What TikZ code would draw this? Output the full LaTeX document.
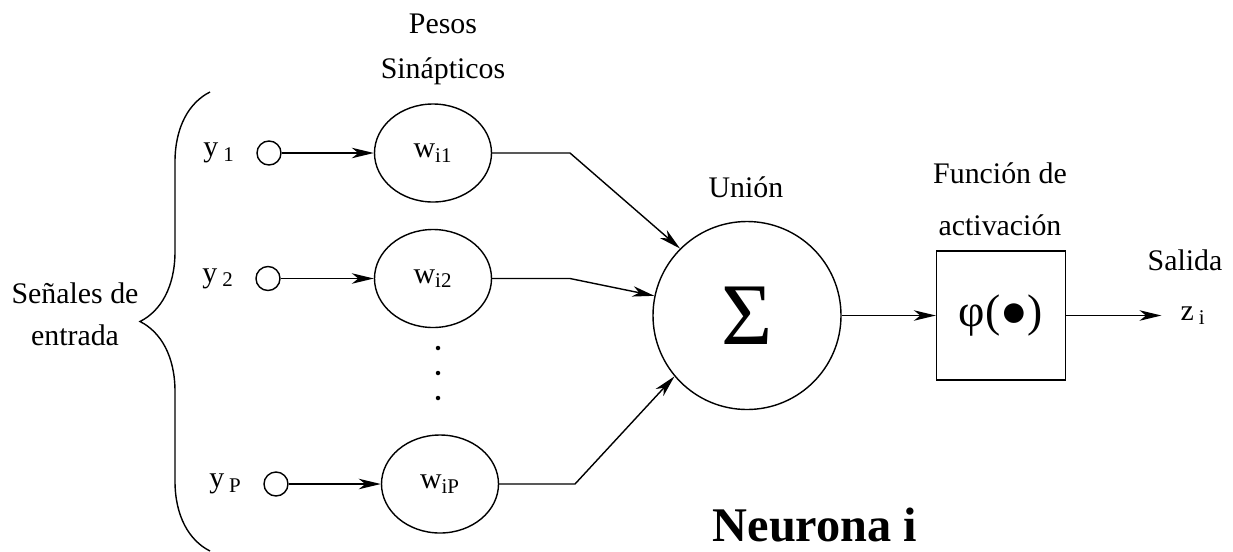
\documentclass[tikz,border=0pt]{standalone}
\usepackage{fontspec}
\setmainfont{Liberation Serif}
\usetikzlibrary{shapes.geometric, positioning, arrows.meta, decorations.pathreplacing}

\begin{document}
\begin{tikzpicture}[
    >={Stealth[length=4.4mm, width=2.1mm, inset=1.3mm]},
    line width=0.8pt,
    every node/.style={font=\fontsize{17}{24}\selectfont},
    entrada/.style={draw, circle, minimum size=4.8mm, inner sep=0pt},
    peso/.style={draw, ellipse, minimum width=2.34cm, minimum height=1.96cm, inner sep=0pt},
    union/.style={draw, circle, minimum size=3.76cm, inner sep=0pt,
      font=\fontsize{50}{52}\selectfont},
    activacion/.style={draw, minimum size=2.58cm, inner sep=0pt,
      font=\fontsize{26}{28}\selectfont},
    etiqueta/.style={align=center}
  ]
    \useasboundingbox (0,0) rectangle (24.66,-11.02);

    % entradas
    \node[entrada] (y1) at (5.38,-3.06) {};
    \node[entrada] (y2) at (5.36,-5.57) {};
    \node[entrada] (yP) at (5.52,-9.68) {};
    \node[left=0.3cm of y1] (ly1) {y\,\textsubscript{1}};
    \node[left=0.3cm of y2] (ly2) {y\,\textsubscript{2}};
    \node[left=0.3cm of yP] (lyP) {y\,\textsubscript{P}};

    % pesos sinapticos
    \node[peso] (w1) at (8.66,-3.06) {w\textsubscript{i1}};
    \node[peso] (w2) at (8.66,-5.57) {w\textsubscript{i2}};
    \node[peso] (wP) at (8.80,-9.68) {w\textsubscript{iP}};
    \foreach \yy in {-6.96,-7.46,-7.96}
      \fill (8.76,\yy) circle (0.045);

    % union y activacion
    \node[union]      (sum) at (14.94,-6.31) {Σ};
    \node[activacion] (act) at (20.02,-6.31) {φ(●)};
    \node (z) at (23.86,-6.31) {z\,\textsubscript{i}};

    \coordinate (c1) at (11.40,-3.06);
    \coordinate (c2) at (11.40,-5.57);
    \coordinate (cP) at (11.50,-9.68);

    % etiquetas
    \node[etiqueta, font=\fontsize{17}{25.5}\selectfont] (lpesos) at (8.86,-0.99) {Pesos\\Sinápticos};
    \node[etiqueta] (lsenal) at (1.5,-6.28) {Señales de\\entrada};
    \node (lunion) at (14.92,-3.74) {Unión};
    \node[etiqueta, font=\fontsize{17}{29.5}\selectfont] (lfuncion) at (20.0,-3.98) {Función de\\activación};
    \node (lsalida) at (23.7,-5.2) {Salida};
    \node[font=\bfseries\fontsize{27.5}{30}\selectfont] (lneurona) at (16.3,-10.5) {Neurona i};

    % llave
    \coordinate (bb) at (4.2,-11.02);
    \coordinate (bt) at (4.2,-1.84);
    \draw[decorate, decoration={brace, amplitude=1.4cm}] (bb) -- (bt);

    \path
      (y1)  edge[->] (w1)
      (y2)  edge[->] (w2)
      (yP)  edge[->] (wP)
      (sum) edge[->] (act)
      (act) edge[->, shorten >=0.25cm] (z);

    \draw[->] (w1) -- (c1) -- (sum.135);
    \draw[->] (w2) -- (c2) -- (sum.168);
    \draw[->] (wP) -- (cP) -- (sum.220);
\end{tikzpicture}
\end{document}
